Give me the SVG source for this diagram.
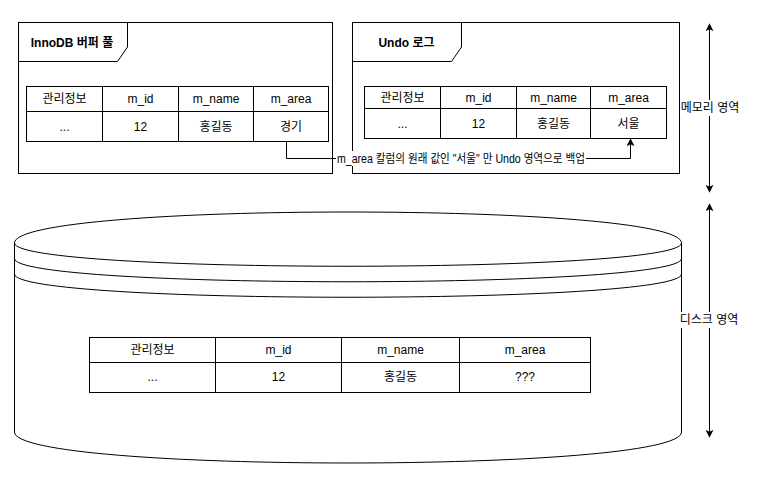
<svg xmlns="http://www.w3.org/2000/svg" width="761" height="491" viewBox="0 0 761 491">
<defs>
<marker id="arr" viewBox="0 0 10 10" refX="9" refY="5" markerWidth="8" markerHeight="8" markerUnits="userSpaceOnUse" orient="auto-start-reverse">
<path d="M0 0 L10 5 L0 10 L2.5 5 Z" fill="#000"/>
</marker>
</defs>
<style>
.s{fill:none;stroke:#000;stroke-width:1}
.w{fill:#fff;stroke:#000;stroke-width:1}
text{font-family:"Liberation Sans","Noto Sans CJK KR",Arial,sans-serif;font-size:12px;fill:#000;text-anchor:middle;dominant-baseline:central}
.b{font-weight:bold}
</style>
<rect width="761" height="491" fill="#fff"/>

<g id="disk">
<path class="w" d="M14.5 243 C14.5 201.67 681.5 201.67 681.5 243 L681.5 432 C681.5 473.33 14.5 473.33 14.5 432 Z"/>
<path class="s" d="M14.5 243 C14.5 274 681.5 274 681.5 243 M14.5 258.5 C14.5 289.5 681.5 289.5 681.5 258.5 M14.5 274 C14.5 305 681.5 305 681.5 274"/>
</g>

<g id="disk-table">
<rect class="w" x="89.5" y="337.5" width="501" height="55"/>
<path class="s" d="M89.5 362.5 H590.5 M215.5 337.5 V392.5 M341.5 337.5 V392.5 M459.5 337.5 V392.5"/>
<text x="152.5" y="350">관리정보</text>
<text x="278.5" y="350">m_id</text>
<text x="400.5" y="350">m_name</text>
<text x="525" y="350">m_area</text>
<text x="152.5" y="377">...</text>
<text x="278.5" y="377">12</text>
<text x="400.5" y="377">홍길동</text>
<text x="525" y="377">???</text>
</g>

<g id="buffer-pool">
<rect class="w" x="18.5" y="22.5" width="314" height="151"/>
<path class="s" d="M18.5 61.5 H117.5 L127.5 47 V22.5"/>
<text class="b" x="72" y="42.5">InnoDB 버퍼 풀</text>
</g>

<g id="buffer-table">
<rect class="w" x="26.5" y="86.5" width="302" height="55"/>
<path class="s" d="M26.5 111.5 H328.5 M102.5 86.5 V141.5 M178.5 86.5 V141.5 M253.5 86.5 V141.5"/>
<text x="64.5" y="99">관리정보</text>
<text x="140.5" y="99">m_id</text>
<text x="216" y="99">m_name</text>
<text x="291" y="99">m_area</text>
<text x="64.5" y="126.5">...</text>
<text x="140.5" y="126.5">12</text>
<text x="216" y="126.5">홍길동</text>
<text x="291" y="126.5">경기</text>
</g>

<g id="undo-log">
<rect class="w" x="352.5" y="22.5" width="327" height="151"/>
<path class="s" d="M352.5 61.5 H451.5 L461.5 47 V22.5"/>
<text class="b" x="406.5" y="42.5">Undo 로그</text>
</g>

<g id="undo-table">
<rect class="w" x="364.5" y="86.5" width="302" height="52"/>
<path class="s" d="M364.5 108.5 H666.5 M440.5 86.5 V138.5 M516.5 86.5 V138.5 M590.5 86.5 V138.5"/>
<text x="402.5" y="97.5">관리정보</text>
<text x="478.5" y="97.5">m_id</text>
<text x="553.5" y="97.5">m_name</text>
<text x="628.5" y="97.5">m_area</text>
<text x="402.5" y="123.5">...</text>
<text x="478.5" y="123.5">12</text>
<text x="553.5" y="123.5">홍길동</text>
<text x="628.5" y="123.5">서울</text>
</g>

<g id="connectors">
<path class="s" d="M286.5 141.5 V158.5 H630.5 V139" marker-end="url(#arr)"/>
<rect x="336" y="151" width="250" height="15" fill="#fff"/>
<text x="461" y="158.5" textLength="248" lengthAdjust="spacingAndGlyphs">m_area 칼럼의 원래 값인 "서울" 만 Undo 영역으로 백업</text>
<path class="s" d="M709.5 24 V192" marker-start="url(#arr)" marker-end="url(#arr)"/>
<rect x="682" y="100" width="56" height="16" fill="#fff"/>
<text x="710" y="108">메모리 영역</text>
<path class="s" d="M709.5 204 V437" marker-start="url(#arr)" marker-end="url(#arr)"/>
<rect x="681" y="312" width="56" height="16" fill="#fff"/>
<text x="709" y="320">디스크 영역</text>
</g>
</svg>
